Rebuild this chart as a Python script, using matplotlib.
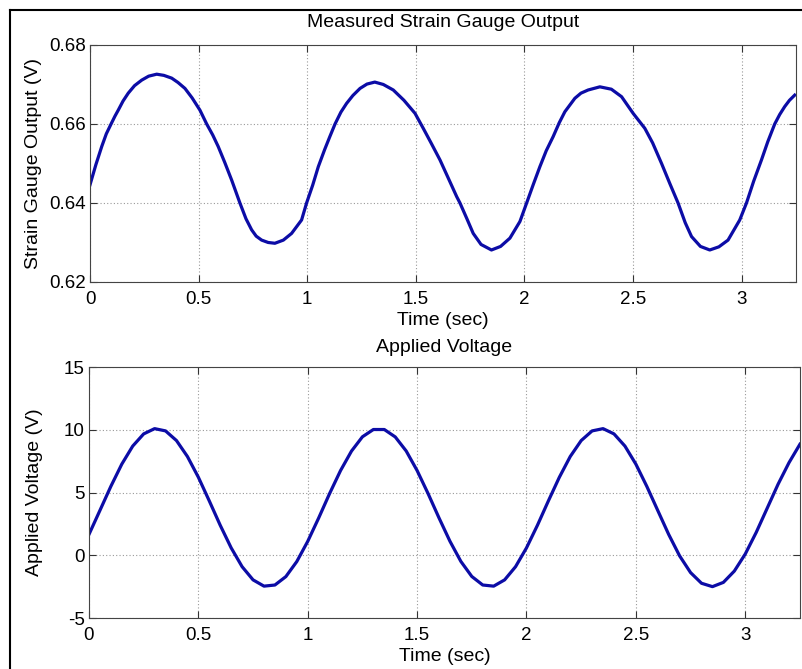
import matplotlib

matplotlib.use("Agg")
import matplotlib.pyplot as plt
from matplotlib.lines import Line2D

# strain gauge output (V)
strain_t = [0.0, 0.027, 0.054, 0.075, 0.097, 0.115, 0.130, 0.152, 0.176, 0.205,
            0.238, 0.270, 0.307, 0.340, 0.376, 0.405, 0.437, 0.470, 0.506, 0.537,
            0.565, 0.590, 0.620, 0.652, 0.690, 0.718, 0.744, 0.765, 0.790, 0.820,
            0.851, 0.890, 0.928, 0.974, 0.997, 1.025, 1.051, 1.080, 1.104, 1.128,
            1.155, 1.181, 1.210, 1.243, 1.275, 1.311, 1.350, 1.396, 1.445, 1.496,
            1.534, 1.570, 1.611, 1.650, 1.688, 1.703, 1.735, 1.764, 1.800, 1.848,
            1.890, 1.933, 1.979, 2.010, 2.040, 2.071, 2.100, 2.132, 2.160, 2.186,
            2.232, 2.260, 2.293, 2.347, 2.400, 2.447, 2.500, 2.554, 2.590, 2.631,
            2.670, 2.707, 2.740, 2.769, 2.810, 2.853, 2.895, 2.937, 2.991, 3.022,
            3.055, 3.091, 3.120, 3.152, 3.175, 3.198, 3.220, 3.244]
strain_v = [0.6446, 0.6497, 0.6543, 0.6575, 0.6600, 0.6620, 0.6635, 0.6658, 0.6678, 0.6697,
            0.6711, 0.6721, 0.6726, 0.6723, 0.6716, 0.6705, 0.6690, 0.6666, 0.6635, 0.6600,
            0.6572, 0.6543, 0.6503, 0.6458, 0.6400, 0.6360, 0.6332, 0.6316, 0.6306, 0.6300,
            0.6298, 0.6306, 0.6323, 0.6357, 0.6400, 0.6445, 0.6492, 0.6535, 0.6568, 0.6600,
            0.6630, 0.6652, 0.6672, 0.6690, 0.6701, 0.6706, 0.6700, 0.6686, 0.6660, 0.6627,
            0.6589, 0.6552, 0.6509, 0.6462, 0.6416, 0.6400, 0.6360, 0.6323, 0.6295, 0.6281,
            0.6290, 0.6311, 0.6353, 0.6400, 0.6446, 0.6492, 0.6532, 0.6568, 0.6603, 0.6631,
            0.6665, 0.6678, 0.6686, 0.6694, 0.6688, 0.6669, 0.6627, 0.6589, 0.6552, 0.6500,
            0.6448, 0.6400, 0.6350, 0.6315, 0.6290, 0.6281, 0.6289, 0.6306, 0.6357, 0.6400,
            0.6455, 0.6509, 0.6555, 0.6600, 0.6624, 0.6644, 0.6660, 0.6673]

# applied voltage (V), every 0.05 s
volt_t = [round(0.05 * i, 2) for i in range(66)]
volt_v = [1.66, 3.57, 5.49, 7.26, 8.70, 9.67, 10.09, 9.91, 9.14, 7.87,
          6.22, 4.33, 2.39, 0.59, -0.91, -1.96, -2.46, -2.37, -1.70, -0.50,
          1.11, 2.97, 4.92, 6.75, 8.30, 9.44, 10.02, 10.02, 9.43, 8.31,
          6.75, 4.92, 2.98, 1.12, -0.49, -1.69, -2.37, -2.46, -1.96, -0.91,
          0.59, 2.39, 4.33, 6.21, 7.87, 9.14, 9.91, 10.09, 9.67, 8.70,
          7.26, 5.49, 3.57, 1.66, -0.05, -1.38, -2.23, -2.50, -2.16, -1.26,
          0.10, 1.82, 3.74, 5.66, 7.38, 8.85]

x_ticks = [0, 0.5, 1, 1.5, 2, 2.5, 3]
x_tick_labels = ["0", "0.5", "1", "1.5", "2", "2.5", "3"]
strain_ticks = [0.62, 0.64, 0.66, 0.68]
strain_tick_labels = ["0.62", "0.64", "0.66", "0.68"]
volt_ticks = [-5, 0, 5, 10, 15]

plt.rcParams["font.family"] = ["Liberation Sans", "DejaVu Sans"]
plt.rcParams["axes.unicode_minus"] = False
line_color = "#0c0ca6"

fig = plt.figure(figsize=(8.03, 6.69), dpi=100)
ax1 = fig.add_axes([0.1121, 0.5785, 0.8792, 0.3543])
ax2 = fig.add_axes([0.1108, 0.0762, 0.8854, 0.3752])


def style(ax, yticks, ylabel, title, title_pad, label_x):
    ax.set_xlim(0, 3.25)
    ax.set_ylim(yticks[0], yticks[-1])
    ax.set_xticks(x_ticks)
    ax.set_xticklabels(x_tick_labels)
    ax.set_yticks(yticks)
    ax.tick_params(direction="in", top=True, right=True, length=5,
                   labelsize=13.5, color="#333333")
    ax.tick_params(axis="x", pad=6.5)
    ax.tick_params(axis="y", pad=3)
    ax.grid(True, linestyle=(0, (1, 2)), color="#999999", linewidth=0.8)
    for s in ax.spines.values():
        s.set_color("#444444")
        s.set_linewidth(0.8)
    ax.set_xlabel("Time (sec)", fontsize=14, labelpad=3)
    ax.set_ylabel(ylabel, fontsize=14)
    ax.yaxis.set_label_coords(label_x, 0.5)
    ax.set_title(title, fontsize=14, pad=title_pad)


ax1.plot(strain_t, strain_v, color=line_color, linewidth=2.3)
style(ax1, strain_ticks, "Strain Gauge Output (V)", "Measured Strain Gauge Output", 13, -0.068)
ax1.set_yticklabels(strain_tick_labels)

ax2.plot(volt_t, volt_v, color=line_color, linewidth=2.3)
style(ax2, volt_ticks, "Applied Voltage (V)", "Applied Voltage", 11, -0.064)

# frame lines around the figure (top and left edges)
fig.add_artist(Line2D([10 / 803, 1], [1 - 10 / 669, 1 - 10 / 669], color="black", linewidth=1.5))
fig.add_artist(Line2D([10 / 803, 10 / 803], [0, 1 - 10 / 669], color="black", linewidth=1.5))

fig.savefig("out.png", dpi=100)
plt.close(fig)
